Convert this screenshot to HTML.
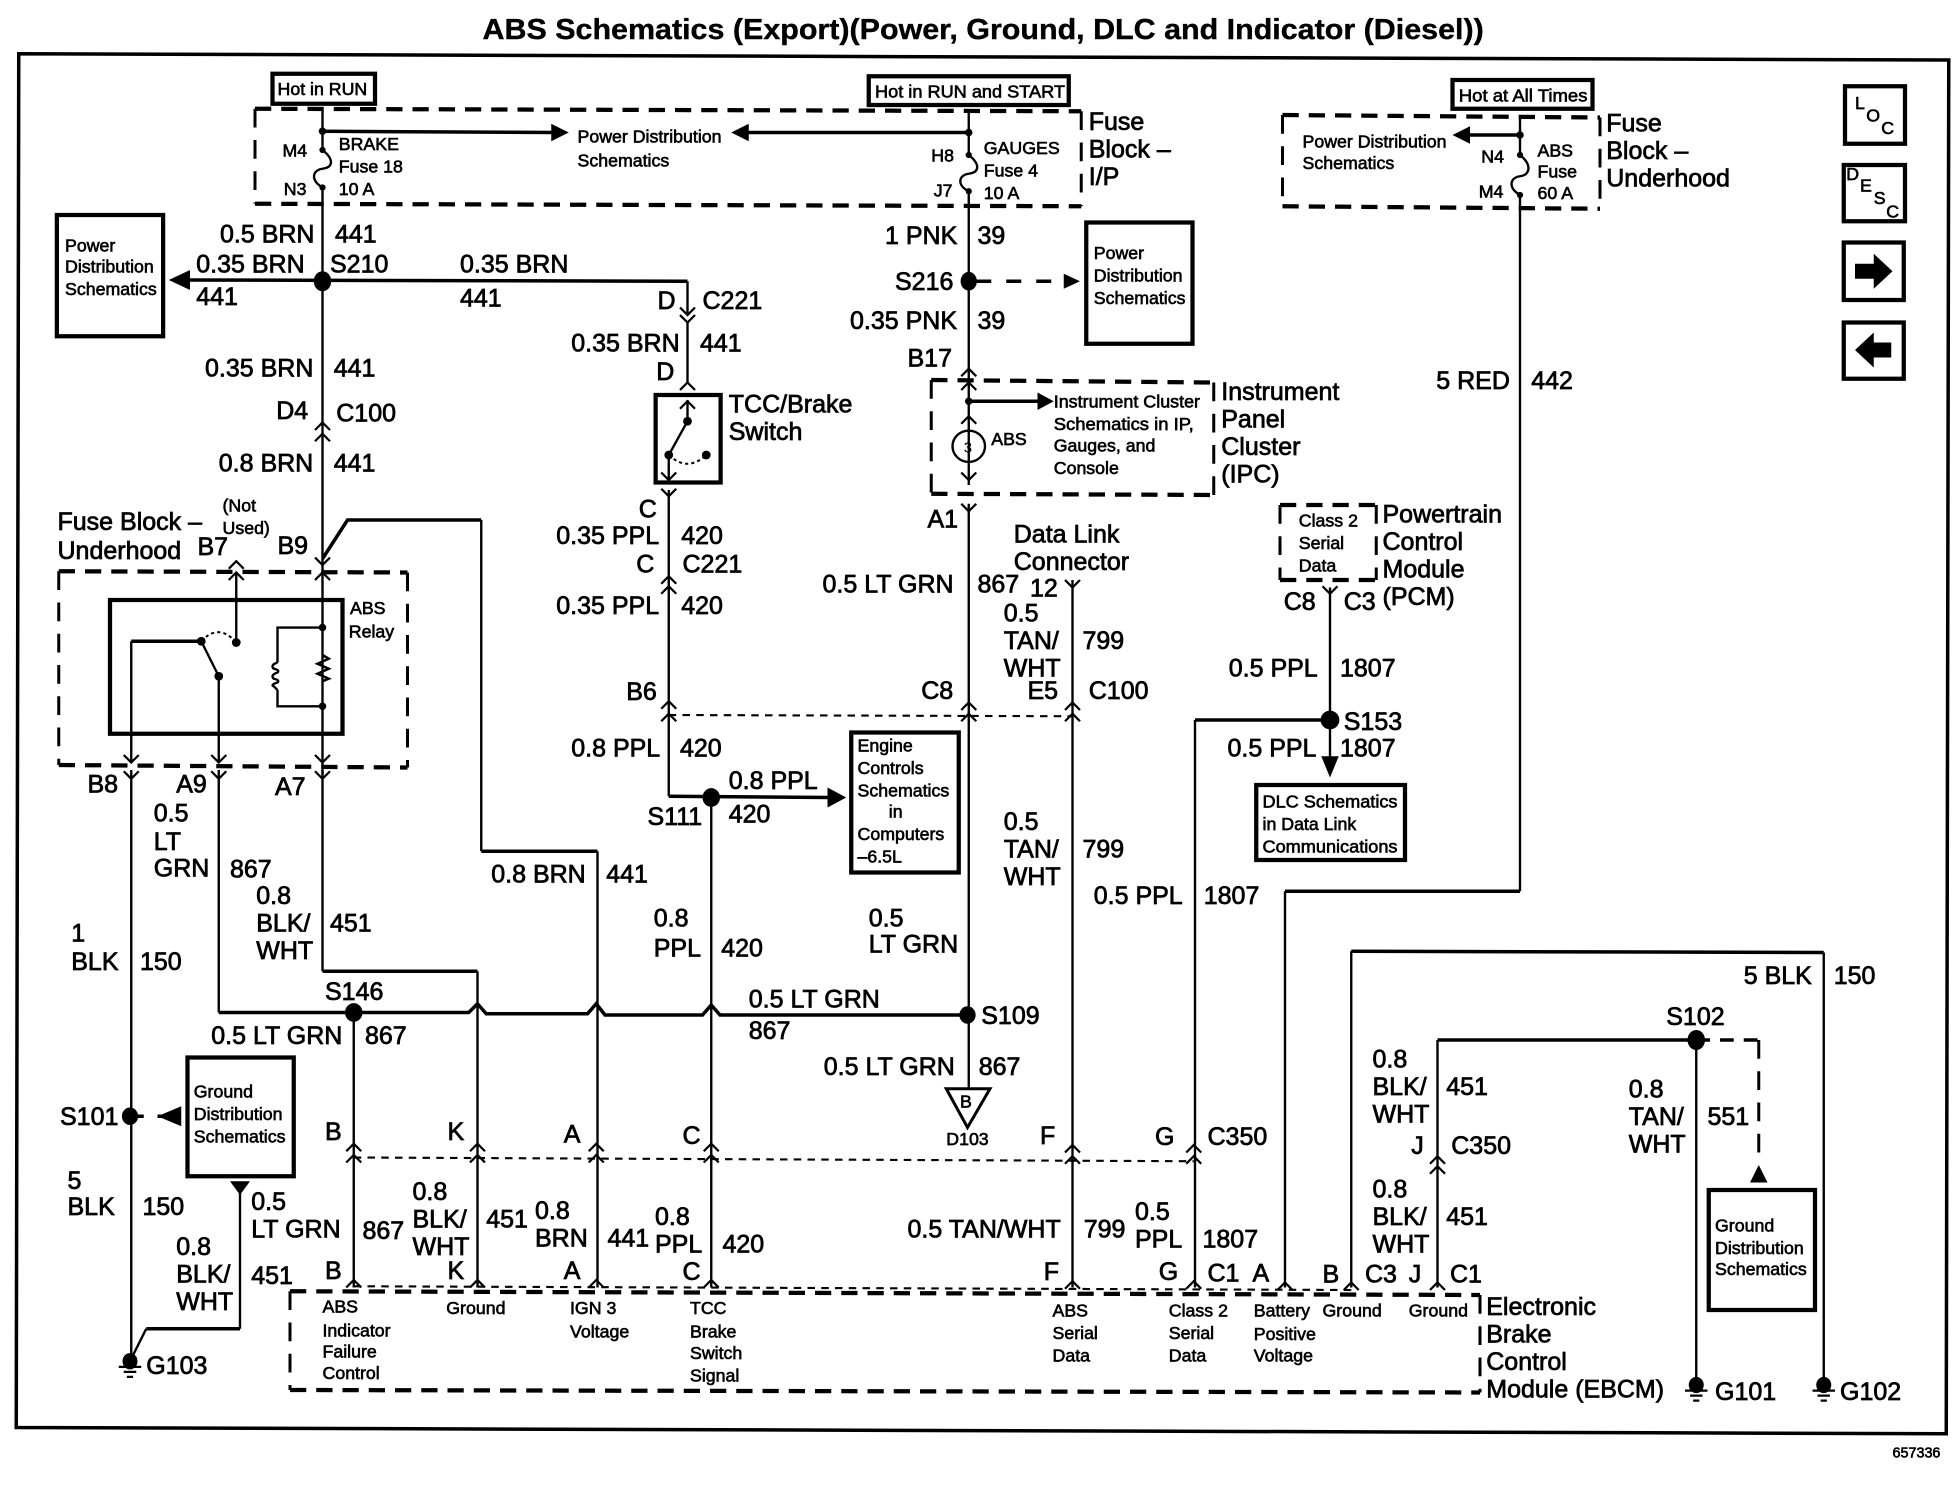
<!DOCTYPE html>
<html><head><meta charset="utf-8"><title>ABS Schematics</title>
<style>
html,body{margin:0;padding:0;background:#fff}
svg{display:block}
text{font-family:"Liberation Sans",sans-serif;fill:#000}
.t text{font-size:20px;stroke:#000;stroke-width:.6}
.s text{font-size:14.2px;stroke:#000;stroke-width:.5}
.w{fill:none;stroke:#000;stroke-width:1.9}
.h{fill:none;stroke:#000;stroke-width:2.8}
.b{fill:none;stroke:#000;stroke-width:3.4}
.dh{fill:none;stroke:#000;stroke-width:3.4;stroke-dasharray:13 8}
.dv{fill:none;stroke:#000;stroke-width:2.4;stroke-dasharray:15 10}
.df{fill:none;stroke:#000;stroke-width:1.7;stroke-dasharray:6 5}
.f{fill:#000;stroke:none}
</style></head><body>
<svg xmlns="http://www.w3.org/2000/svg" width="1960" height="1504" viewBox="0 0 1568 1203.2">
<defs>
<path id="u" d="M-6,6 L0,0 L6,6" fill="none" stroke="#000" stroke-width="1.8"/>
<path id="v" d="M-6,-6 L0,0 L6,-6" fill="none" stroke="#000" stroke-width="1.8"/>
<g id="gnd"><ellipse cx="0" cy="0" rx="6" ry="6.5" fill="#000"/><path d="M-9,4.5H9M-5,8.5H5M-2.5,12.5H2.5" stroke="#000" stroke-width="1.8"/></g>
</defs>
<rect width="1568" height="1204" fill="#fff"/>
<text x="386" y="31" font-size="23" font-weight="bold" stroke="#000" stroke-width=".3" textLength="801" lengthAdjust="spacingAndGlyphs">ABS Schematics (Export)(Power, Ground, DLC and Indicator (Diesel))</text>
<path d="M15,43 L1559,48 L1557,1147 L13,1142 Z" fill="none" stroke="#000" stroke-width="2.8"/>

<!-- solid boxes -->
<g class="b">
<rect x="218" y="59" width="82" height="24"/>
<rect x="695" y="61" width="160" height="23"/>
<rect x="1162" y="64" width="112" height="23"/>
<rect x="45.5" y="172" width="85" height="97"/>
<rect x="869" y="178" width="85" height="97"/>
<rect x="524.5" y="316" width="52" height="70"/>
<rect x="88" y="480" width="186" height="107"/>
<rect x="681" y="586" width="86" height="112"/>
<rect x="1005" y="628" width="119" height="60"/>
<rect x="150" y="846" width="85" height="95"/>
<rect x="1367" y="952" width="85" height="96"/>
<rect x="1476" y="69" width="48" height="46"/>
<rect x="1475" y="132" width="49" height="45"/>
<rect x="1475" y="194" width="48" height="46"/>
<rect x="1475" y="258" width="48" height="45"/>
</g>

<!-- dashed module boxes -->
<path class="dh" d="M204,87 L865,89"/><path class="dh" d="M204,163 L865,165"/>
<path class="dv" d="M204,87 V163"/><path class="dv" d="M865,89 V165"/>
<path class="dh" d="M1026,92 L1280,94"/><path class="dh" d="M1026,165 L1280,167"/>
<path class="dv" d="M1026,92 V165"/><path class="dv" d="M1280,94 V167"/>
<path class="dh" d="M745,304 L971,306"/><path class="dh" d="M745,395 L971,396"/>
<path class="dv" d="M745,304 V395"/><path class="dv" d="M971,306 V396"/>
<path class="dh" d="M1024,404 L1101,404"/><path class="dh" d="M1024,464 L1101,464"/>
<path class="dv" d="M1024,404 V464"/><path class="dv" d="M1101,404 V464"/>
<path class="dh" d="M47,457 L326,458"/><path class="dh" d="M47,612 L326,614"/>
<path class="dv" d="M47,457 V612"/><path class="dv" d="M326,458 V614"/>
<path class="dh" d="M232,1033 L1184,1036"/><path class="dh" d="M232,1112 L1184,1114"/>
<path class="dv" d="M232,1033 V1112"/><path class="dv" d="M1184,1036 V1114"/>

<!-- fine dashed connector lines -->
<path class="df" d="M535,572 L858,573"/>
<path class="df" d="M283,926 L955,929"/>
<path class="df" d="M283,1029 L1081,1032"/>

<!-- main wires -->
<path class="w" d="M258,88 V120 M258,150 V447"/>
<path class="w" d="M258,120 C268,128 266,134 258,135 C250,136 248,144 258,150"/>
<use href="#u" x="258" y="338"/><use href="#u" x="258" y="347"/>
<path class="w" d="M775,90 V124 M775,153 V295"/>
<path class="w" d="M775,124 C785,132 783,138 775,139 C767,140 765,148 775,153"/>
<path class="w" d="M1216,92 V124 M1216,156 V713"/>
<path class="w" d="M1216,124 C1226,132 1224,140 1216,141 C1208,142 1206,150 1216,156"/>
<circle class="f" cx="258" cy="120" r="2.5"/><circle class="f" cx="258" cy="150" r="2.5"/>
<circle class="f" cx="775" cy="124" r="2.5"/><circle class="f" cx="775" cy="153" r="2.5"/>
<circle class="f" cx="1216" cy="124" r="2.5"/><circle class="f" cx="1216" cy="156" r="2.5"/>
<circle class="f" cx="258" cy="105" r="3"/><circle class="f" cx="775" cy="106" r="3"/><circle class="f" cx="1216" cy="108" r="3"/>

<path class="h" d="M258,105 L444,106"/><polygon class="f" points="455,106 441,99 441,113"/>
<path class="h" d="M775,106 L596,106"/><polygon class="f" points="585,106 599,99 599,113"/>
<path class="h" d="M1216,108 L1173,108"/><polygon class="f" points="1162,108 1176,101 1176,115"/>

<path class="h" d="M145,224 L550,225"/><polygon class="f" points="135,224 152,216 152,232"/>
<path class="w" d="M550,225 V252 M550,258 V307"/>
<ellipse class="f" cx="258" cy="225" rx="7" ry="8"/>
<use href="#v" x="550" y="252"/><use href="#v" x="550" y="258"/>
<use href="#u" x="550" y="306"/>
<path class="w" d="M550,320 V337 L535,364 V384"/>
<use href="#u" x="550" y="321"/><use href="#v" x="535" y="384"/>
<circle class="f" cx="550" cy="337" r="3.5"/><circle class="f" cx="535" cy="364" r="3.5"/><circle class="f" cx="565" cy="364" r="3.5"/>
<path d="M535,364 Q550,378 565,364" fill="none" stroke="#000" stroke-width="1.6" stroke-dasharray="2.5 2.5"/>
<use href="#v" x="535" y="397"/>
<path class="w" d="M535,392 V637"/>
<use href="#u" x="535" y="461"/><use href="#u" x="535" y="469"/>
<use href="#u" x="535" y="561"/><use href="#u" x="535" y="571"/>
<path class="h" d="M535,637 L665,638"/><polygon class="f" points="677,638 662,630 662,646"/>
<ellipse class="f" cx="569" cy="638" rx="7" ry="7.5"/>
<path class="w" d="M569,638 V1030"/>

<!-- S216 -->
<ellipse class="f" cx="775" cy="225" rx="6.5" ry="7.5"/>
<path class="h" d="M781,225 H851" stroke-dasharray="12 12"/><polygon class="f" points="864,225 851,219 851,231"/>

<!-- IPC -->
<use href="#u" x="775" y="295"/><use href="#u" x="775" y="306"/><use href="#u" x="775" y="333"/>
<path class="w" d="M775,295 V344"/>
<circle class="f" cx="775" cy="321" r="3"/>
<path class="h" d="M775,321 H832"/><polygon class="f" points="843,321 830,314 830,328"/>
<ellipse cx="775" cy="357" rx="13" ry="12.5" fill="none" stroke="#000" stroke-width="1.9"/>
<path class="w" d="M775,344 V369"/>
<text x="771" y="362" font-size="12">3</text>
<path class="w" d="M775,369 V388"/><use href="#v" x="775" y="384"/>
<use href="#v" x="775" y="409"/>
<path class="w" d="M775,403 V872"/>
<use href="#u" x="775" y="562"/><use href="#u" x="775" y="571"/>
<polygon points="757,871 792,871 774,902" fill="#fff" stroke="#000" stroke-width="2.4"/>

<!-- DLC wire -->
<use href="#v" x="858" y="470"/>
<path class="w" d="M858,464 V1030"/>
<use href="#u" x="858" y="562"/><use href="#u" x="858" y="571"/>

<!-- PCM -->
<use href="#v" x="1064" y="475"/>
<path class="w" d="M1064,470 V612"/>
<ellipse class="f" cx="1064" cy="576" rx="7.5" ry="7.5"/>
<path class="h" d="M1064,576 H956"/>
<path class="w" d="M956,576 V1030"/>
<polygon class="f" points="1064,622 1057,605 1071,605"/>

<!-- red wire -->
<path class="h" d="M1216,713 H1028"/>
<path class="w" d="M1028,713 V1030"/>

<!-- 5 BLK -->
<path class="h" d="M1081,761 L1459,762"/>
<path class="w" d="M1081,761 V1030 M1459,762 V1103"/>
<use href="#gnd" x="1459" y="1108"/>

<!-- S102 -->
<ellipse class="f" cx="1357" cy="832" rx="7" ry="8"/>
<path class="h" d="M1150,832 H1357"/>
<path class="h" d="M1357,832 H1407" stroke-dasharray="11 8"/>
<path class="dv" d="M1407,832 V930"/>
<polygon class="f" points="1407,932 1400,946 1414,946"/>
<path class="w" d="M1150,832 V1030 M1357,832 V1103"/>
<use href="#u" x="1150" y="925"/><use href="#u" x="1150" y="933"/>
<use href="#gnd" x="1357" y="1108"/>

<!-- B9 wire -->
<path class="h" d="M258,447 L278,416 H385"/>
<path class="w" d="M385,416 V681"/>
<path class="h" d="M385,681 H478"/>
<path class="w" d="M478,681 V1030"/>

<!-- relay internals -->
<use href="#u" x="189" y="449"/><use href="#u" x="189" y="458"/>
<use href="#v" x="258" y="452"/><use href="#u" x="258" y="458"/>
<path class="w" d="M189,458 V514 M258,447 V620"/>
<circle class="f" cx="189" cy="514" r="3.5"/><circle class="f" cx="161" cy="513" r="3.5"/><circle class="f" cx="175" cy="541" r="3.5"/>
<path class="h" d="M105,513 H161"/>
<path class="w" d="M105,513 V610 M161,513 L175,541 V610"/>
<path d="M161,513 Q175,498 189,514" fill="none" stroke="#000" stroke-width="1.6" stroke-dasharray="2.5 2.5"/>
<circle class="f" cx="258" cy="502" r="3"/><circle class="f" cx="258" cy="565" r="3"/>
<path class="w" d="M258,502 H222 V530 M222,552 V565 H258"/>
<path class="w" d="M222,530 q-6,2 -3,5 q5,1 3,3 q-6,2 -3,5 q5,1 3,3 q-6,2 -3,3 q2,2 3,3"/>
<path class="h" d="M258,524 l5,3 l-9,4 l9,4 l-9,4 l9,4 l-5,2" style="stroke-width:2"/>
<use href="#v" x="105" y="610"/><use href="#v" x="175" y="610"/><use href="#v" x="258" y="610"/>
<use href="#v" x="105" y="623"/><use href="#v" x="175" y="623"/><use href="#v" x="258" y="623"/>
<path class="w" d="M105,616 V1085 M175,616 V810 M258,616 V777"/>
<path class="h" d="M258,777 H382"/>
<path class="w" d="M382,777 V1030 M283,810 V1030"/>

<!-- S146-S109 -->
<path class="h" d="M175,810 H375 L382,803 L389,811 H470 L477,803 L484,812 H562 L569,804 L576,812 L774,812"/>
<ellipse class="f" cx="283" cy="810" rx="7" ry="7.5"/>
<ellipse class="f" cx="774" cy="812" rx="6.5" ry="7"/>

<!-- C350 / EBCM chevrons -->
<use href="#u" x="283" y="915"/><use href="#u" x="283" y="924"/>
<use href="#u" x="382" y="915"/><use href="#u" x="382" y="924"/>
<use href="#u" x="477" y="915"/><use href="#u" x="477" y="924"/>
<use href="#u" x="569" y="915"/><use href="#u" x="569" y="924"/>
<use href="#u" x="858" y="916"/><use href="#u" x="858" y="925"/>
<use href="#u" x="955" y="916"/><use href="#u" x="955" y="925"/>
<use href="#u" x="283" y="1024"/><use href="#u" x="382" y="1024"/><use href="#u" x="477" y="1024"/><use href="#u" x="569" y="1024"/>
<use href="#u" x="858" y="1025"/><use href="#u" x="955" y="1025"/><use href="#u" x="1028" y="1026"/><use href="#u" x="1081" y="1026"/><use href="#u" x="1150" y="1026"/>

<!-- S101 / G103 -->
<ellipse class="f" cx="104" cy="893" rx="6.5" ry="7"/>
<path class="h" d="M104,893 H115"/>
<path class="h" d="M126,893 H136"/><polygon class="f" points="126,893 145,885 145,901"/>
<polygon class="f" points="192,956 184,945 200,945"/>
<path class="w" d="M192,950 V1063"/>
<path class="h" d="M192,1063 H117"/><path class="w" d="M117,1063 L106,1085"/>
<use href="#gnd" x="104" y="1089"/>

<!-- nav arrows -->
<polygon class="f" points="1514,217 1499,203 1499,211 1484,211 1484,223 1499,223 1499,231"/>
<polygon class="f" points="1484,280 1499,266 1499,274 1513,274 1513,286 1499,286 1499,294"/>

<g class="t">
<text x="176" y="194">0.5 BRN</text><text x="268" y="194">441</text>
<text x="157" y="218">0.35 BRN</text><text x="264" y="218">S210</text><text x="368" y="218">0.35 BRN</text>
<text x="157" y="244">441</text><text x="368" y="245">441</text>
<text x="526" y="247">D</text><text x="562" y="247">C221</text>
<text x="457" y="281">0.35 BRN</text><text x="560" y="281">441</text>
<text x="525" y="304">D</text>
<text x="164" y="301">0.35 BRN</text><text x="267" y="301">441</text>
<text x="221" y="335">D4</text><text x="269" y="337">C100</text>
<text x="175" y="377">0.8 BRN</text><text x="267" y="377">441</text>
<text x="583" y="330">TCC/Brake</text><text x="583" y="352">Switch</text>
<text x="511" y="414">C</text>
<text x="445" y="435">0.35 PPL</text><text x="545" y="435">420</text>
<text x="509" y="458">C</text><text x="546" y="458">C221</text>
<text x="445" y="491">0.35 PPL</text><text x="545" y="491">420</text>
<text x="501" y="560">B6</text>
<text x="457" y="605">0.8 PPL</text><text x="544" y="605">420</text>
<text x="583" y="631">0.8 PPL</text><text x="583" y="658">420</text>
<text x="518" y="660">S111</text>
<text x="46" y="424">Fuse Block –</text><text x="46" y="447">Underhood</text>
<text x="158" y="444">B7</text><text x="222" y="443">B9</text>
<text x="70" y="634">B8</text><text x="141" y="634">A9</text><text x="220" y="636">A7</text>
<text x="123" y="657">0.5</text><text x="123" y="680">LT</text><text x="123" y="701">GRN</text><text x="184" y="702">867</text>
<text x="205" y="723">0.8</text><text x="205" y="745">BLK/</text><text x="205" y="767">WHT</text><text x="264" y="745">451</text>
<text x="57" y="753">1</text><text x="57" y="776">BLK</text><text x="112" y="776">150</text>
<text x="260" y="800">S146</text>
<text x="393" y="706">0.8 BRN</text><text x="485" y="706">441</text>
<text x="523" y="741">0.8</text><text x="523" y="765">PPL</text><text x="577" y="765">420</text>
<text x="695" y="741">0.5</text><text x="695" y="762">LT GRN</text>
<text x="599" y="806">0.5 LT GRN</text><text x="599" y="831">867</text>
<text x="785" y="819">S109</text>
<text x="659" y="860">0.5 LT GRN</text><text x="783" y="860">867</text>
<text x="169" y="835">0.5 LT GRN</text><text x="292" y="835">867</text>
<text x="658" y="474">0.5 LT GRN</text><text x="782" y="474">867</text><text x="824" y="477">12</text>
<text x="742" y="422">A1</text>
<text x="811" y="434">Data Link</text><text x="811" y="456">Connector</text>
<text x="803" y="497">0.5</text><text x="803" y="519">TAN/</text><text x="803" y="541">WHT</text><text x="866" y="519">799</text>
<text x="822" y="559">E5</text><text x="871" y="559">C100</text><text x="737" y="559">C8</text>
<text x="803" y="664">0.5</text><text x="803" y="686">TAN/</text><text x="803" y="708">WHT</text><text x="866" y="686">799</text>
<text x="875" y="723">0.5 PPL</text><text x="963" y="723">1807</text>
<text x="708" y="195">1 PNK</text><text x="782" y="195">39</text>
<text x="716" y="232">S216</text>
<text x="680" y="263">0.35 PNK</text><text x="782" y="263">39</text>
<text x="726" y="293">B17</text>
<text x="1149" y="311">5 RED</text><text x="1225" y="311">442</text>
<text x="977" y="320">Instrument</text><text x="977" y="342">Panel</text><text x="977" y="364">Cluster</text><text x="977" y="386">(IPC)</text>
<text x="871" y="104">Fuse</text><text x="871" y="126">Block –</text><text x="871" y="148">I/P</text>
<text x="1285" y="105">Fuse</text><text x="1285" y="127">Block –</text><text x="1285" y="149">Underhood</text>
<text x="1106" y="418">Powertrain</text><text x="1106" y="440">Control</text><text x="1106" y="462">Module</text><text x="1106" y="484">(PCM)</text>
<text x="1027" y="488">C8</text><text x="1075" y="488">C3</text>
<text x="983" y="541">0.5 PPL</text><text x="1072" y="541">1807</text>
<text x="1075" y="584">S153</text>
<text x="982" y="605">0.5 PPL</text><text x="1072" y="605">1807</text>
<text x="1395" y="787">5 BLK</text><text x="1467" y="787">150</text>
<text x="1333" y="820">S102</text>
<text x="1098" y="854">0.8</text><text x="1098" y="876">BLK/</text><text x="1098" y="898">WHT</text><text x="1157" y="876">451</text>
<text x="1129" y="923">J</text><text x="1161" y="923">C350</text>
<text x="1098" y="958">0.8</text><text x="1098" y="980">BLK/</text><text x="1098" y="1002">WHT</text><text x="1157" y="980">451</text>
<text x="1303" y="878">0.8</text><text x="1303" y="900">TAN/</text><text x="1303" y="922">WHT</text><text x="1366" y="900">551</text>
<text x="260" y="912">B</text><text x="358" y="912">K</text><text x="451" y="914">A</text><text x="546" y="915">C</text><text x="832" y="915">F</text><text x="924" y="916">G</text><text x="966" y="916">C350</text>
<text x="48" y="900">S101</text>
<text x="54" y="951">5</text><text x="54" y="972">BLK</text><text x="114" y="972">150</text>
<text x="201" y="968">0.5</text><text x="201" y="990">LT GRN</text><text x="290" y="991">867</text>
<text x="141" y="1004">0.8</text><text x="141" y="1026">BLK/</text><text x="141" y="1048">WHT</text><text x="201" y="1027">451</text>
<text x="330" y="960">0.8</text><text x="330" y="982">BLK/</text><text x="330" y="1004">WHT</text><text x="389" y="982">451</text>
<text x="428" y="975">0.8</text><text x="428" y="997">BRN</text><text x="486" y="997">441</text>
<text x="524" y="980">0.8</text><text x="524" y="1002">PPL</text><text x="578" y="1002">420</text>
<text x="726" y="990">0.5 TAN/WHT</text><text x="867" y="990">799</text>
<text x="908" y="976">0.5</text><text x="908" y="998">PPL</text><text x="962" y="998">1807</text>
<text x="260" y="1023">B</text><text x="358" y="1023">K</text><text x="451" y="1023">A</text><text x="546" y="1024">C</text><text x="835" y="1024">F</text><text x="927" y="1024">G</text><text x="966" y="1025">C1</text><text x="1002" y="1025">A</text><text x="1058" y="1026">B</text><text x="1092" y="1026">C3</text><text x="1127" y="1026">J</text><text x="1160" y="1026">C1</text>
<text x="1189" y="1052">Electronic</text><text x="1189" y="1074">Brake</text><text x="1189" y="1096">Control</text><text x="1189" y="1118">Module (EBCM)</text>
<text x="117" y="1099">G103</text><text x="1372" y="1120">G101</text><text x="1472" y="1120">G102</text>
</g>

<g class="s">
<text x="222" y="76">Hot in RUN</text>
<text x="700" y="78" textLength="152" lengthAdjust="spacingAndGlyphs">Hot in RUN and START</text>
<text x="1167" y="81" textLength="103" lengthAdjust="spacingAndGlyphs">Hot at All Times</text>
<text x="226" y="125">M4</text><text x="227" y="156">N3</text>
<text x="271" y="120">BRAKE</text><text x="271" y="138">Fuse 18</text><text x="271" y="156">10 A</text>
<text x="745" y="129">H8</text><text x="747" y="157">J7</text>
<text x="787" y="123">GAUGES</text><text x="787" y="141">Fuse 4</text><text x="787" y="159">10 A</text>
<text x="462" y="114">Power Distribution</text><text x="462" y="133">Schematics</text>
<text x="1042" y="118">Power Distribution</text><text x="1042" y="135">Schematics</text>
<text x="1185" y="130">N4</text><text x="1183" y="158">M4</text>
<text x="1230" y="125">ABS</text><text x="1230" y="142">Fuse</text><text x="1230" y="159">60 A</text>
<text x="52" y="201">Power</text><text x="52" y="218">Distribution</text><text x="52" y="236">Schematics</text>
<text x="875" y="207">Power</text><text x="875" y="225">Distribution</text><text x="875" y="243">Schematics</text>
<text x="843" y="326" textLength="117" lengthAdjust="spacingAndGlyphs">Instrument Cluster</text>
<text x="843" y="344" textLength="112" lengthAdjust="spacingAndGlyphs">Schematics in IP,</text>
<text x="843" y="361">Gauges, and</text><text x="843" y="379">Console</text>
<text x="793" y="356">ABS</text>
<text x="1039" y="421">Class 2</text><text x="1039" y="439">Serial</text><text x="1039" y="457">Data</text>
<text x="178" y="409">(Not</text><text x="178" y="427">Used)</text>
<text x="280" y="491">ABS</text><text x="279" y="510">Relay</text>
<text x="686" y="601">Engine</text><text x="686" y="619">Controls</text><text x="686" y="637">Schematics</text><text x="711" y="654">in</text><text x="686" y="672">Computers</text><text x="686" y="690">–6.5L</text>
<text x="1010" y="646" textLength="108" lengthAdjust="spacingAndGlyphs">DLC Schematics</text>
<text x="1010" y="664">in Data Link</text>
<text x="1010" y="682" textLength="108" lengthAdjust="spacingAndGlyphs">Communications</text>
<text x="155" y="878">Ground</text><text x="155" y="896">Distribution</text><text x="155" y="914">Schematics</text>
<text x="1372" y="985">Ground</text><text x="1372" y="1003">Distribution</text><text x="1372" y="1020">Schematics</text>
<text x="768" y="886">B</text><text x="757" y="916">D103</text>
<text x="258" y="1050">ABS</text><text x="258" y="1069">Indicator</text><text x="258" y="1086">Failure</text><text x="258" y="1103">Control</text>
<text x="357" y="1051">Ground</text>
<text x="456" y="1051">IGN 3</text><text x="456" y="1070">Voltage</text>
<text x="552" y="1051">TCC</text><text x="552" y="1070">Brake</text><text x="552" y="1087">Switch</text><text x="552" y="1105">Signal</text>
<text x="842" y="1053">ABS</text><text x="842" y="1071">Serial</text><text x="842" y="1089">Data</text>
<text x="935" y="1053">Class 2</text><text x="935" y="1071">Serial</text><text x="935" y="1089">Data</text>
<text x="1003" y="1053">Battery</text><text x="1003" y="1072">Positive</text><text x="1003" y="1089">Voltage</text>
<text x="1058" y="1053">Ground</text><text x="1127" y="1053">Ground</text>
<text x="1484" y="87">L</text><text x="1493" y="97">O</text><text x="1505" y="107">C</text>
<text x="1477" y="144">D</text><text x="1488" y="153">E</text><text x="1499" y="163">S</text><text x="1509" y="174">C</text>
<text x="1514" y="1166" style="font-size:11.5px">657336</text>
</g>
</svg>
</body></html>
